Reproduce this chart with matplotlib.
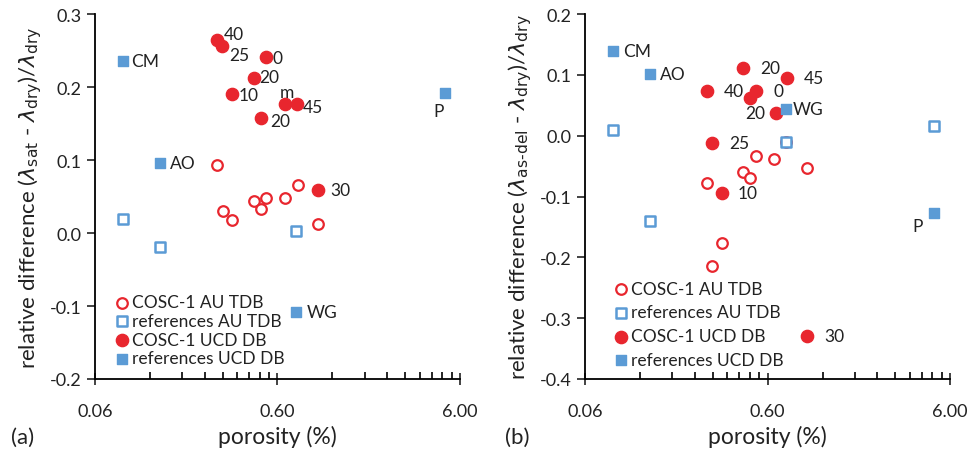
import numpy as np
import matplotlib
matplotlib.use('Agg')
import matplotlib.pyplot as plt
from matplotlib.ticker import FixedLocator, NullFormatter

plt.rcParams['font.family'] = ['Lato', 'DejaVu Sans']
plt.rcParams['axes.unicode_minus'] = False
plt.rcParams['mathtext.fontset'] = 'dejavusans'

RED = '#E8262E'
BLUE = '#5B9BD5'
TXT = '#222222'

# ---- panel (a): saturated vs dry ----
a_au_x = [0.280, 0.301, 0.338, 0.446, 0.519, 0.487, 0.660, 0.776, 1.00]
a_au_y = [0.093, 0.030, 0.018, 0.044, 0.048, 0.033, 0.048, 0.066, 0.012]
a_ref_au_x = [0.085, 0.136, 0.757]
a_ref_au_y = [0.019, -0.019, 0.003]
a_ucd_x = [0.280, 0.298, 0.519, 0.446, 0.338, 0.660, 0.768, 0.487, 1.00]
a_ucd_y = [0.264, 0.257, 0.241, 0.212, 0.190, 0.177, 0.177, 0.158, 0.059]
a_ucd_lab = ['40', '25', '0', '20', '10', 'm', '45', '20', '30']
a_ref_ucd_x = [0.085, 0.136, 4.95, 0.757]
a_ref_ucd_y = [0.236, 0.096, 0.192, -0.108]
a_ref_ucd_lab = ['CM', 'AO', 'P', 'WG']

# ---- panel (b): as-delivered vs dry ----
b_au_x = [0.519, 0.650, 0.990, 0.440, 0.481, 0.280, 0.338, 0.298, 0.757]
b_au_y = [-0.033, -0.038, -0.053, -0.059, -0.069, -0.077, -0.176, -0.214, -0.011]
b_ref_au_x = [0.085, 4.90, 0.136, 0.757]
b_ref_au_y = [0.010, 0.016, -0.141, -0.011]
b_ucd_x = [0.440, 0.768, 0.280, 0.519, 0.481, 0.668, 0.298, 0.338, 0.990]
b_ucd_y = [0.112, 0.095, 0.074, 0.074, 0.062, 0.037, -0.012, -0.094, -0.329]
b_ucd_lab = ['20', '45', '40', '0', '', '20', '25', '10', '30']
b_ref_ucd_x = [0.085, 0.136, 0.757, 4.90]
b_ref_ucd_y = [0.140, 0.102, 0.044, -0.127]
b_ref_ucd_lab = ['CM', 'AO', 'WG', 'P']

# label offsets in pixels (dx, dy)
a_ucd_off = [(7, 6), (7, -9), (7, -1), (5, 1), (7, -1), (2, 12), (6, -3), (9, -3), (12, 0)]
a_ref_off = [(9, 0), (10, 0), (-6, -18), (11, 0)]
b_ucd_off = [(17, 0), (17, 0), (17, 0), (17, 0), (0, 0), (-11, 0), (17, 0), (16, 0), (17, 0)]
b_ref_off = [(10, 0), (10, 0), (7, 0), (-16, -13)]

fig = plt.figure(figsize=(9.67, 4.6), dpi=100)
ax_a = fig.add_axes([0.0982, 0.174, 0.3775, 0.793])
ax_b = fig.add_axes([0.605, 0.174, 0.3775, 0.793])


def draw(ax, au_x, au_y, rau_x, rau_y, u_x, u_y, u_lab, u_off, ru_x, ru_y, ru_lab, ru_off,
         leg_space, leg_anchor):
    ax.scatter(au_x, au_y, s=58, facecolors='white', edgecolors=RED, linewidths=1.6,
               marker='o', label='COSC-1 AU TDB', zorder=3)
    ax.scatter(rau_x, rau_y, s=55, facecolors='white', edgecolors=BLUE, linewidths=1.8,
               marker='s', label='references AU TDB', zorder=3)
    ax.scatter(u_x, u_y, s=78, color=RED, marker='o', label='COSC-1 UCD DB', zorder=4)
    ax.scatter(ru_x, ru_y, s=60, color=BLUE, marker='s', label='references UCD DB', zorder=4)
    for x, y, t, (dx, dy) in zip(u_x, u_y, u_lab, u_off):
        if not t:
            continue
        if t == 'm':
            ha = 'center'
        elif dx < 0:
            ha = 'right'
        else:
            ha = 'left'
        ax.annotate(t, (x, y), xytext=(dx, dy), textcoords='offset pixels',
                    ha=ha, va='center', fontsize=12.5, color=TXT, zorder=5)
    for x, y, t, (dx, dy) in zip(ru_x, ru_y, ru_lab, ru_off):
        ha = 'center' if t == 'P' else 'left'
        ax.annotate(t, (x, y), xytext=(dx, dy), textcoords='offset pixels',
                    ha=ha, va='center', fontsize=12.5, color=TXT, zorder=5)

    ax.set_xscale('log')
    ax.set_xlim(0.06, 6.0)
    ax.xaxis.set_major_locator(FixedLocator([0.06, 0.6, 6.0]))
    ax.set_xticklabels(['0.06', '0.60', '6.00'])
    minors = [0.06 * k for k in range(2, 10)] + [0.6 * k for k in range(2, 10)]
    ax.xaxis.set_minor_locator(FixedLocator(minors))
    ax.xaxis.set_minor_formatter(NullFormatter())
    ax.tick_params(axis='x', which='major', direction='inout', length=9, width=1.2,
                   pad=13, labelsize=13, colors=TXT)
    ax.tick_params(axis='x', which='minor', direction='in', length=5, width=1.2)
    ax.tick_params(axis='y', direction='out', length=6, width=1.2, labelsize=13,
                   colors=TXT)
    for s in ['top', 'right']:
        ax.spines[s].set_visible(False)
    for s in ['left', 'bottom']:
        ax.spines[s].set_linewidth(1.3)
    ax.set_xlabel('porosity (%)', fontsize=16.5, color=TXT, labelpad=4)
    leg = ax.legend(loc='lower left', frameon=False, fontsize=12.5, handletextpad=0.0,
                    labelspacing=leg_space, borderaxespad=0, borderpad=0,
                    handlelength=1.2, bbox_to_anchor=leg_anchor)
    for t in leg.get_texts():
        t.set_color(TXT)


draw(ax_a, a_au_x, a_au_y, a_ref_au_x, a_ref_au_y, a_ucd_x, a_ucd_y, a_ucd_lab, a_ucd_off,
     a_ref_ucd_x, a_ref_ucd_y, a_ref_ucd_lab, a_ref_off, 0.15, (0.045, 0.035))
draw(ax_b, b_au_x, b_au_y, b_ref_au_x, b_ref_au_y, b_ucd_x, b_ucd_y, b_ucd_lab, b_ucd_off,
     b_ref_ucd_x, b_ref_ucd_y, b_ref_ucd_lab, b_ref_off, 0.45, (0.07, 0.03))

ax_a.set_ylim(-0.2, 0.3)
ax_a.set_yticks(np.arange(-0.2, 0.31, 0.1))
ax_a.set_yticklabels(['-0.2', '-0.1', '0.0', '0.1', '0.2', '0.3'])
ax_b.set_ylim(-0.4, 0.2)
ax_b.set_yticks(np.arange(-0.4, 0.21, 0.1))
ax_b.set_yticklabels(['-0.4', '-0.3', '-0.2', '-0.1', '0.0', '0.1', '0.2'])

ax_a.set_ylabel(r'relative difference ($\lambda_{\mathrm{sat}}$ - $\lambda_{\mathrm{dry}}$)/$\lambda_{\mathrm{dry}}$',
                fontsize=16, color=TXT, labelpad=4)
ax_b.set_ylabel('relative difference ($\\lambda_{\\mathrm{as\u2010del}}$ - $\\lambda_{\\mathrm{dry}}$)/$\\lambda_{\\mathrm{dry}}$',
                fontsize=16, color=TXT, labelpad=4)

fig.text(0.023, 0.048, '(a)', fontsize=16, color=TXT, va='center', ha='center')
fig.text(0.535, 0.048, '(b)', fontsize=16, color=TXT, va='center', ha='center')

fig.savefig('out.png', dpi=100)
